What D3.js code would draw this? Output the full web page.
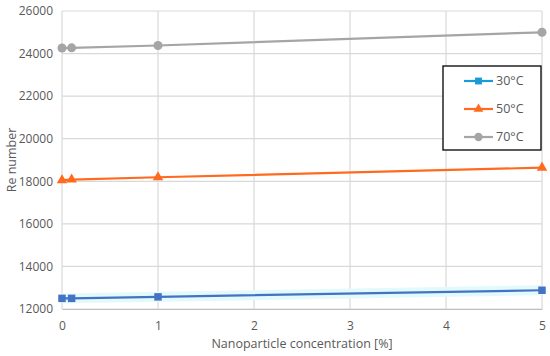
<!DOCTYPE html>
<html>
<head>
<meta charset="utf-8">
<script src="https://cdn.jsdelivr.net/npm/d3@7"></script>
<style>
  body { margin: 0; background: #fff; }
  text { font-family: "Open Sans", "Noto Sans", sans-serif; fill: #595959; }
</style>
</head>
<body>
<svg id="chart" width="550" height="356"></svg>
<script>
// concentration [%]
const conc = [0, 0.1, 1, 5]
const re30 = [12500, 12500, 12570, 12880]
const re50 = [18050, 18080, 18190, 18640]
const re70 = [24260, 24270, 24380, 25000]
const xTicks = [0, 1, 2, 3, 4, 5]
const yTicks = [12000, 14000, 16000, 18000, 20000, 22000, 24000, 26000]

const series = [
    { name: '30°C', values: re30, color: '#4472C4', legendColor: '#1A9BD7', shape: d3.symbolSquare, size: 56 },
    { name: '50°C', values: re50, color: '#FF6A1F', legendColor: '#FF6A1F', shape: d3.symbolTriangle, size: 48 },
    { name: '70°C', values: re70, color: '#A5A5A5', legendColor: '#A5A5A5', shape: d3.symbolCircle, size: 64 }
]

const svg = d3.select('#chart')
const m = { left: 62, right: 8, top: 11, bottom: 47 }
const w = 550 - m.left - m.right
const h = 356 - m.top - m.bottom

const x = d3.scaleLinear().domain([0, 5]).range([m.left, m.left + w])
const y = d3.scaleLinear().domain([12000, 26000]).range([m.top + h, m.top])

// grid
svg.append('g').selectAll('line.h')
    .data(yTicks).join('line')
    .attr('x1', m.left).attr('x2', m.left + w)
    .attr('y1', d => y(d)).attr('y2', d => y(d))
    .attr('stroke', '#d9d9d9').attr('stroke-width', 1.2)

svg.append('g').selectAll('line.v')
    .data(xTicks).join('line')
    .attr('x1', d => x(d)).attr('x2', d => x(d))
    .attr('y1', m.top).attr('y2', m.top + h)
    .attr('stroke', '#d9d9d9').attr('stroke-width', 1.2)

// axes
const xAxis = svg.append('g')
    .attr('transform', `translate(0,${m.top + h})`)
    .call(d3.axisBottom(x).tickValues(xTicks).tickSize(0).tickPadding(12).tickFormat(d3.format('d')))
xAxis.select('.domain').attr('stroke', '#bfbfbf').attr('stroke-width', 1.2)
xAxis.selectAll('text').style('font-size', '12px').attr('fill', '#595959')

const yAxis = svg.append('g')
    .attr('transform', `translate(${m.left},0)`)
    .call(d3.axisLeft(y).tickValues(yTicks).tickSize(0).tickPadding(9).tickFormat(d3.format('d')))
yAxis.select('.domain').remove()
yAxis.selectAll('text').style('font-size', '12px').attr('fill', '#595959')

svg.append('text')
    .attr('x', m.left + w / 2).attr('y', 348)
    .attr('text-anchor', 'middle')
    .style('font-size', '12.5px')
    .text('Nanoparticle concentration [%]')

svg.append('text')
    .attr('transform', `translate(16,${m.top + h / 2}) rotate(-90)`)
    .attr('text-anchor', 'middle')
    .style('font-size', '12.5px')
    .text('Re number')

const line = d3.line().x(d => x(d[0])).y(d => y(d[1]))

// faint glow under the 30°C series
svg.append('path')
    .datum(conc.map((c, i) => [c, re30[i]]))
    .attr('d', line)
    .attr('fill', 'none')
    .attr('stroke', '#e3fafc')
    .attr('stroke-width', 10)

series.forEach(s => {
    const pts = conc.map((c, i) => [c, s.values[i]])
    svg.append('path')
        .datum(pts)
        .attr('d', line)
        .attr('fill', 'none')
        .attr('stroke', s.color)
        .attr('stroke-width', 2.2)

    svg.append('g').selectAll('path')
        .data(pts).join('path')
        .attr('transform', d => `translate(${x(d[0])},${y(d[1])})`)
        .attr('d', d3.symbol().type(s.shape).size(s.size))
        .attr('fill', s.color)
})

// legend
const lg = svg.append('g').attr('transform', 'translate(443,66)')
lg.append('rect')
    .attr('width', 98).attr('height', 84)
    .attr('fill', '#fff').attr('stroke', '#000').attr('stroke-width', 1.3)

const item = lg.selectAll('g.item')
    .data(series).join('g')
    .attr('transform', (d, i) => `translate(0,${15 + i * 28})`)

item.append('line')
    .attr('x1', 21).attr('x2', 50)
    .attr('stroke', d => d.legendColor).attr('stroke-width', 2.2)
item.append('path')
    .attr('transform', 'translate(35.5,0)')
    .attr('d', d => d3.symbol().type(d.shape).size(d.size * 0.85)())
    .attr('fill', d => d.legendColor)
item.append('text')
    .attr('x', 53).attr('dy', '0.35em')
    .style('font-size', '12.5px')
    .text(d => d.name)
</script>
</body>
</html>
